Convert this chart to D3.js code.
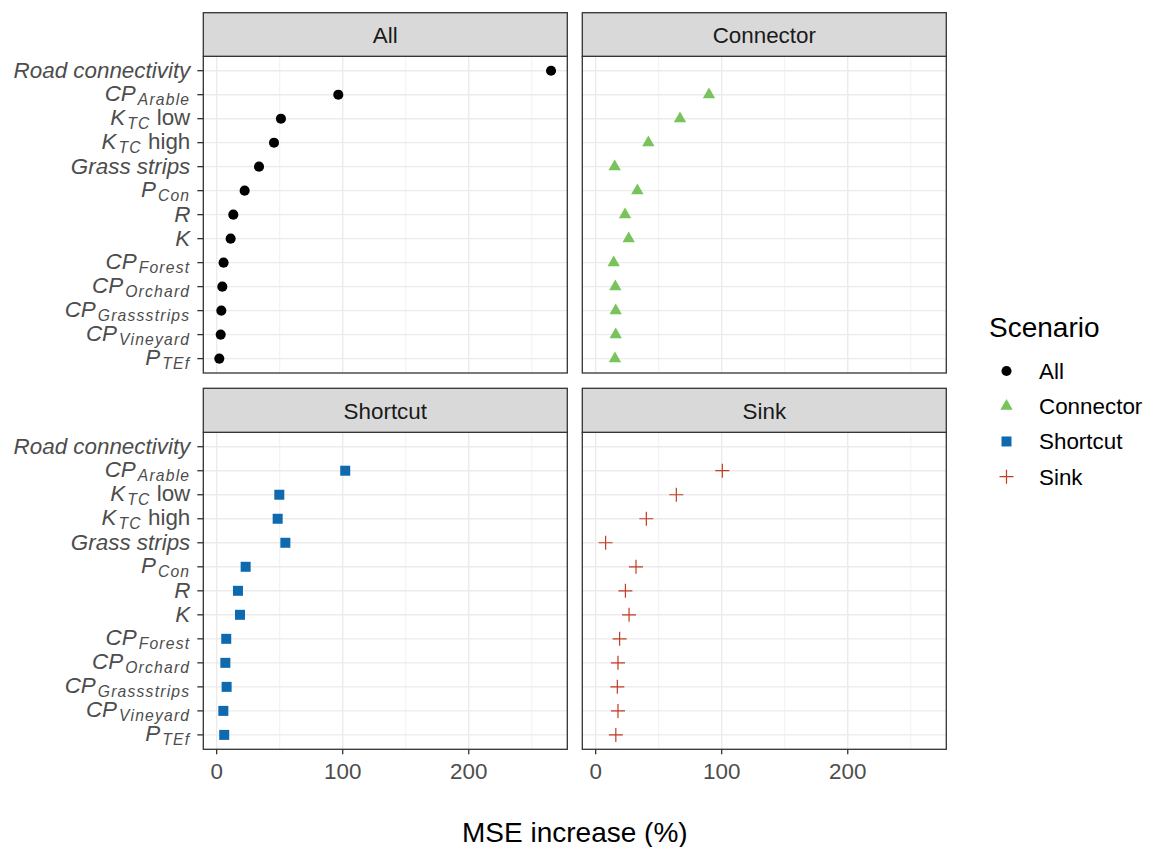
<!DOCTYPE html>
<html>
<head>
<meta charset="utf-8">
<script src="https://cdn.jsdelivr.net/npm/d3@7"></script>
<style>
  body { margin: 0; background: #fff; }
  text { font-family: "Liberation Sans", Arial, sans-serif; }
</style>
</head>
<body>
<svg id="viz"></svg>
<script>
var width = 1151;
var height = 847;

// variables, top to bottom (main part, subscript, trailing plain text)
var variables = ["Road connectivity", "CP_Arable", "K_TC low", "K_TC high", "Grass strips",
  "P_Con", "R", "K", "CP_Forest", "CP_Orchard", "CP_Grassstrips", "CP_Vineyard", "P_TEf"];
var labelParts = [
  ["Road connectivity", "", ""], ["CP", "Arable", ""], ["K", "TC", " low"], ["K", "TC", " high"],
  ["Grass strips", "", ""], ["P", "Con", ""], ["R", "", ""], ["K", "", ""],
  ["CP", "Forest", ""], ["CP", "Orchard", ""], ["CP", "Grassstrips", ""], ["CP", "Vineyard", ""], ["P", "TEf", ""]
];

var scenarios = ["All", "Connector", "Shortcut", "Sink"];
var colors = ["#000000", "#78C35A", "#0E69AF", "#C23B22"];

// MSE increase (%) per variable, null = not in scenario
var allValues       = [265.3, 96.5, 51.0, 45.5, 33.6, 22.2, 13.2, 11.1, 5.5, 4.5, 3.7, 3.2, 2.1];
var connectorValues = [null, 89.9, 66.9, 41.8, 15.1, 33.1, 23.3, 26.2, 14.3, 15.6, 15.9, 15.9, 15.3];
var shortcutValues  = [null, 102.0, 49.7, 48.4, 54.5, 23.0, 16.9, 18.5, 7.6, 6.9, 7.9, 5.3, 6.0];
var sinkValues      = [null, 100.5, 64.0, 40.2, 7.9, 32.0, 23.6, 26.5, 19.0, 17.7, 17.2, 17.7, 16.0];
var seriesValues = [allValues, connectorValues, shortcutValues, sinkValues];

var xTicks = [0, 100, 200];
var xMinor = [50, 150, 250];

var svg = d3.select("#viz").attr("width", width).attr("height", height).style("display", "block");

var colLeft = [203.3, 582.3], colRight = [567.3, 946.3];
var stripTop = [12.7, 388.3], panelTop = [56.3, 432.3], panelBottom = [373, 749.3];

var xScales = colLeft.map((l, i) => d3.scaleLinear().domain([-10.6, 278.2]).range([l, colRight[i]]));
var yScales = panelTop.map((t, i) => d3.scalePoint().domain(variables).range([t, panelBottom[i]]).padding(0.6));

function shapePath(k) {
  if (k === 0) return d3.symbol(d3.symbolCircle, 80)();
  if (k === 1) return d3.symbol(d3.symbolTriangle, 66)();
  if (k === 2) return d3.symbol(d3.symbolSquare, 100)();
  return "M-7,0H7M0,-7V7";
}
function styleShape(sel, k) {
  if (k === 3) sel.attr("fill", "none").attr("stroke", colors[k]).attr("stroke-width", 1.2);
  else sel.attr("fill", colors[k]);
}

scenarios.forEach((name, k) => {
  var row = Math.floor(k / 2), col = k % 2;
  var x = xScales[col], y = yScales[row];
  var g = svg.append("g");
  var top = panelTop[row], bottom = panelBottom[row];

  // grid
  g.selectAll(".minor").data(xMinor).join("line")
    .attr("x1", d => x(d)).attr("x2", d => x(d)).attr("y1", top).attr("y2", bottom)
    .attr("stroke", "#ebebeb").attr("stroke-width", 0.7);
  g.selectAll(".hgrid").data(variables).join("line")
    .attr("x1", colLeft[col]).attr("x2", colRight[col]).attr("y1", d => y(d)).attr("y2", d => y(d))
    .attr("stroke", "#ebebeb").attr("stroke-width", 1.4);
  g.selectAll(".major").data(xTicks).join("line")
    .attr("x1", d => x(d)).attr("x2", d => x(d)).attr("y1", top).attr("y2", bottom)
    .attr("stroke", "#ebebeb").attr("stroke-width", 1.4);

  // points
  var pts = variables.map((v, i) => ({v: v, val: seriesValues[k][i]})).filter(d => d.val !== null);
  var marks = g.selectAll(".pt").data(pts).join("path")
    .attr("transform", d => `translate(${x(d.val)},${y(d.v)})`)
    .attr("d", shapePath(k));
  styleShape(marks, k);

  // panel border
  g.append("rect").attr("x", colLeft[col]).attr("y", top)
    .attr("width", colRight[col] - colLeft[col]).attr("height", bottom - top)
    .attr("fill", "none").attr("stroke", "#333333").attr("stroke-width", 1.3);

  // strip
  g.append("rect").attr("x", colLeft[col]).attr("y", stripTop[row])
    .attr("width", colRight[col] - colLeft[col]).attr("height", top - stripTop[row])
    .attr("fill", "#d9d9d9").attr("stroke", "#333333").attr("stroke-width", 1.3);
  g.append("text").attr("x", (colLeft[col] + colRight[col]) / 2).attr("y", top - 13.6)
    .attr("text-anchor", "middle").attr("font-size", 22.4).attr("fill", "#1a1a1a").text(name);

  // y axis on left column
  if (col === 0) {
    var ya = g.append("g");
    ya.selectAll("line").data(variables).join("line")
      .attr("x1", colLeft[0] - 6).attr("x2", colLeft[0]).attr("y1", d => y(d)).attr("y2", d => y(d))
      .attr("stroke", "#333333").attr("stroke-width", 1.3);
    var labs = ya.selectAll("text").data(labelParts).join("text")
      .attr("x", colLeft[0] - 13).attr("y", (d, i) => y(variables[i]) + (d[1] ? 6 : 7.5))
      .attr("text-anchor", "end").attr("fill", "#4d4d4d").attr("font-size", 22.4);
    labs.append("tspan").attr("font-style", "italic").text(d => d[0]);
    labs.filter(d => d[1]).append("tspan").attr("font-style", "italic").attr("font-size", 15.7)
      .attr("letter-spacing", 1.2).attr("dx", 2).attr("dy", 4).text(d => d[1]);
    labs.filter(d => d[2]).append("tspan").attr("dy", -4).text(d => d[2]);
  }

  // x axis on bottom row
  if (row === 1) {
    var xa = g.append("g");
    xa.selectAll("line").data(xTicks).join("line")
      .attr("x1", d => x(d)).attr("x2", d => x(d)).attr("y1", bottom).attr("y2", bottom + 5)
      .attr("stroke", "#333333").attr("stroke-width", 1.3);
    xa.selectAll("text").data(xTicks).join("text")
      .attr("x", d => x(d)).attr("y", bottom + 29.5).attr("text-anchor", "middle")
      .attr("fill", "#4d4d4d").attr("font-size", 22.4).text(d => d);
  }
});

// axis title
svg.append("text").attr("x", (colLeft[0] + colRight[1]) / 2).attr("y", 842)
  .attr("text-anchor", "middle").attr("font-size", 28).attr("fill", "#000").text("MSE increase (%)");

// legend
var legend = svg.append("g");
legend.append("text").attr("x", 989).attr("y", 336.5).attr("font-size", 28).attr("fill", "#000").text("Scenario");
var legendY = d3.scalePoint().domain(scenarios).range([371, 476.7]);
scenarios.forEach((name, k) => {
  var item = legend.append("path").attr("transform", `translate(1006.5,${legendY(name)})`).attr("d", shapePath(k));
  styleShape(item, k);
  legend.append("text").attr("x", 1039).attr("y", legendY(name) + 8).attr("font-size", 22.4)
    .attr("fill", "#000").text(name);
});
</script>
</body>
</html>
